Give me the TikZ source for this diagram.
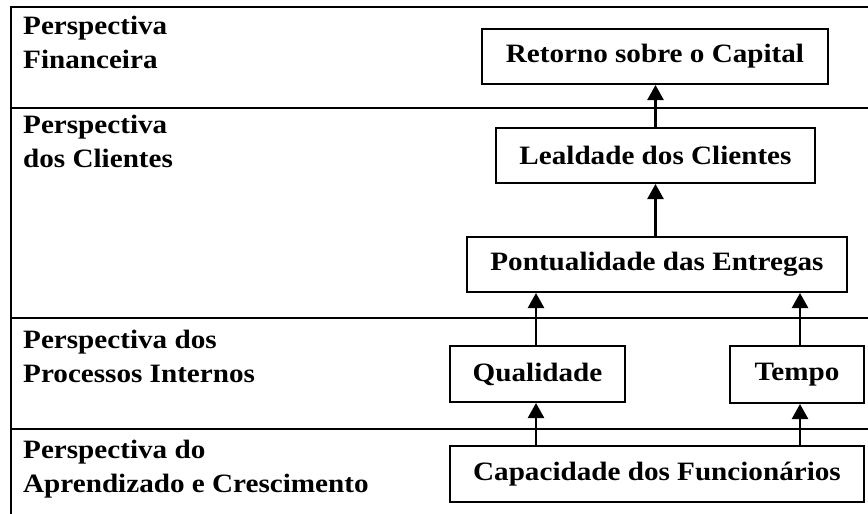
\documentclass[tikz,border=0pt]{standalone}
\usepackage{fontspec}
\setmainfont{Liberation Serif}[FakeStretch=1.1]
\usetikzlibrary{arrows.meta}
\begin{document}
\begin{tikzpicture}[x=1pt,y=-1pt,
  frame/.style={line width=2pt},
  box/.style={draw, line width=2pt, inner sep=0pt, align=center,
    font=\bfseries\fontsize{26.5}{32}\selectfont},
  lab/.style={anchor=base west, align=left, inner sep=0pt,
    font=\bfseries\fontsize{26.5}{33.5}\selectfont},
  arr/.style={line width=2.5pt, -{Triangle[width=16pt,length=15pt]}}]
\useasboundingbox (0,0) rectangle (868,514);
% frame
\draw[frame] (868,7) -- (11,7) -- (11,514);
\draw[frame] (11,108) -- (868,108);
\draw[frame] (11,318) -- (868,318);
\draw[frame] (11,429) -- (868,429);
% labels
\node[lab] (lfin) at (23,68) {Perspectiva\\Financeira};
\node[lab] (lcli) at (23,167) {Perspectiva\\dos Clientes};
\node[lab] (lpro) at (23,382) {Perspectiva dos\\Processos Internos};
\node[lab] (lapr) at (23,492) {Perspectiva do\\Aprendizado e Crescimento};
% boxes
\node[box, minimum width=346, minimum height=55] (ret) at (655,56.5) {Retorno sobre o Capital};
\node[box, minimum width=319, minimum height=55] (lea) at (655.5,155.5) {Lealdade dos Clientes};
\node[box, minimum width=380, minimum height=55] (pon) at (657,264.5) {Pontualidade das Entregas};
\node[box, minimum width=175, minimum height=56] (qua) at (537.5,374) {Qualidade};
\node[box, minimum width=134, minimum height=57] (tem) at (797,374.5) {Tempo};
\node[box, minimum width=414, minimum height=56] (cap) at (657,474) {Capacidade dos Funcionários};
% arrows
\draw[arr] (lea.north) -- (lea.north |- ret.south);
\draw[arr] (pon.north -| lea.south) -- (lea.south);
\draw[arr] (536,0 |- qua.north) -- (536,0 |- pon.south);
\draw[arr] (800,0 |- tem.north) -- (800,0 |- pon.south);
\draw[arr] (536,0 |- cap.north) -- (536,0 |- qua.south);
\draw[arr] (800,0 |- cap.north) -- (800,0 |- tem.south);
\end{tikzpicture}
\end{document}
